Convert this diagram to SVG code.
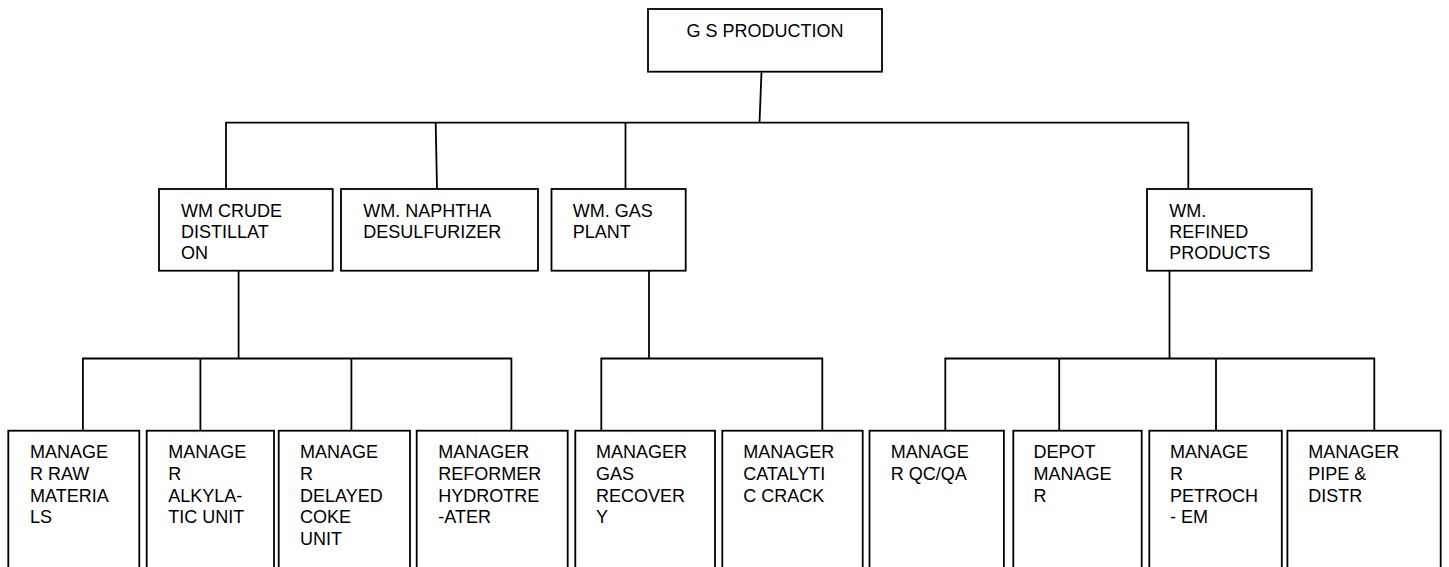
<svg xmlns="http://www.w3.org/2000/svg" width="1449" height="567" viewBox="0 0 1449 567">
<style>
.box{fill:#fff;stroke:#000;stroke-width:1.8}
.ln{fill:none;stroke:#000;stroke-width:1.8}
text{font-family:"Liberation Sans",Arial,sans-serif;font-size:18px;fill:#000}
</style>
<rect width="1449" height="567" fill="#fff"/>
<g id="connectors">
<path class="ln" d="M761.5,71.7 L759.5,122.7"/>
<path class="ln" d="M226,189 V122.7 H1188.3 V189"/>
<path class="ln" d="M435.7,122.7 L437,189"/>
<path class="ln" d="M625.5,122.7 V189"/>
<path class="ln" d="M238.6,270.7 V358.5"/>
<path class="ln" d="M82.9,430.7 V358.5 H511.4 V430.7"/>
<path class="ln" d="M200.4,358.5 V430.7 M351.4,358.5 V430.7"/>
<path class="ln" d="M649,270.7 V358.5"/>
<path class="ln" d="M601.3,430.7 V358.5 H822.3 V430.7"/>
<path class="ln" d="M1169.5,270.7 V358.5"/>
<path class="ln" d="M945.3,430.7 V358.5 H1374.3 V430.7"/>
<path class="ln" d="M1059.2,358.5 V430.7 M1216,358.5 V430.7"/>
</g>
<g id="n-top"><rect class="box" x="648" y="9" width="234" height="62.7"/><text x="765" y="37.3" text-anchor="middle">G S PRODUCTION</text></g>
<g id="n-crude"><rect class="box" x="159" y="189" width="173.7" height="81.7"/><text x="181" y="217.3">WM CRUDE<tspan x="181" dy="21">DISTILLAT</tspan><tspan x="181" dy="21">ON</tspan></text></g>
<g id="n-naphtha"><rect class="box" x="341" y="189" width="197" height="81.7"/><text x="363.3" y="217.3">WM. NAPHTHA<tspan x="363.3" dy="21">DESULFURIZER</tspan></text></g>
<g id="n-gas"><rect class="box" x="551.5" y="189" width="134.2" height="81.7"/><text x="572.7" y="217.3">WM. GAS<tspan x="572.7" dy="21">PLANT</tspan></text></g>
<g id="n-refined"><rect class="box" x="1147" y="189" width="164.7" height="81.7"/><text x="1169.3" y="217.3">WM.<tspan x="1169.3" dy="21">REFINED</tspan><tspan x="1169.3" dy="21">PRODUCTS</tspan></text></g>
<g id="n-raw"><rect class="box" x="8.3" y="430.7" width="131" height="160"/><text x="30" y="458.3">MANAGE<tspan x="30" dy="21.7">R RAW</tspan><tspan x="30" dy="21.7">MATERIA</tspan><tspan x="30" dy="21.7">LS</tspan></text></g>
<g id="n-alky"><rect class="box" x="146.7" y="430.7" width="127.3" height="160"/><text x="168.3" y="458.3">MANAGE<tspan x="168.3" dy="21.7">R</tspan><tspan x="168.3" dy="21.7">ALKYLA-</tspan><tspan x="168.3" dy="21.7">TIC UNIT</tspan></text></g>
<g id="n-coke"><rect class="box" x="278.7" y="430.7" width="131.3" height="160"/><text x="300" y="458.3">MANAGE<tspan x="300" dy="21.7">R</tspan><tspan x="300" dy="21.7">DELAYED</tspan><tspan x="300" dy="21.7">COKE</tspan><tspan x="300" dy="21.7">UNIT</tspan></text></g>
<g id="n-reformer"><rect class="box" x="416.7" y="430.7" width="151" height="160"/><text x="438.3" y="458.3">MANAGER<tspan x="438.3" dy="21.7">REFORMER</tspan><tspan x="438.3" dy="21.7">HYDROTRE</tspan><tspan x="438.3" dy="21.7">-ATER</tspan></text></g>
<g id="n-gasrec"><rect class="box" x="575.3" y="430.7" width="139.7" height="160"/><text x="596" y="458.3">MANAGER<tspan x="596" dy="21.7">GAS</tspan><tspan x="596" dy="21.7">RECOVER</tspan><tspan x="596" dy="21.7">Y</tspan></text></g>
<g id="n-cat"><rect class="box" x="722.3" y="430.7" width="140.4" height="160"/><text x="743.3" y="458.3">MANAGER<tspan x="743.3" dy="21.7">CATALYTI</tspan><tspan x="743.3" dy="21.7">C CRACK</tspan></text></g>
<g id="n-qc"><rect class="box" x="869.5" y="430.7" width="134.4" height="160"/><text x="890.8" y="458.3">MANAGE<tspan x="890.8" dy="21.7">R QC/QA</tspan></text></g>
<g id="n-depot"><rect class="box" x="1013.3" y="430.7" width="128.4" height="160"/><text x="1033.6" y="458.3">DEPOT<tspan x="1033.6" dy="21.7">MANAGE</tspan><tspan x="1033.6" dy="21.7">R</tspan></text></g>
<g id="n-petro"><rect class="box" x="1149.3" y="430.7" width="132.5" height="160"/><text x="1169.9" y="458.3">MANAGE<tspan x="1169.9" dy="21.7">R</tspan><tspan x="1169.9" dy="21.7">PETROCH</tspan><tspan x="1169.9" dy="21.7">- EM</tspan></text></g>
<g id="n-pipe"><rect class="box" x="1287.4" y="430.7" width="153.3" height="160"/><text x="1308.3" y="458.3">MANAGER<tspan x="1308.3" dy="21.7">PIPE &amp;</tspan><tspan x="1308.3" dy="21.7">DISTR</tspan></text></g>
</svg>
